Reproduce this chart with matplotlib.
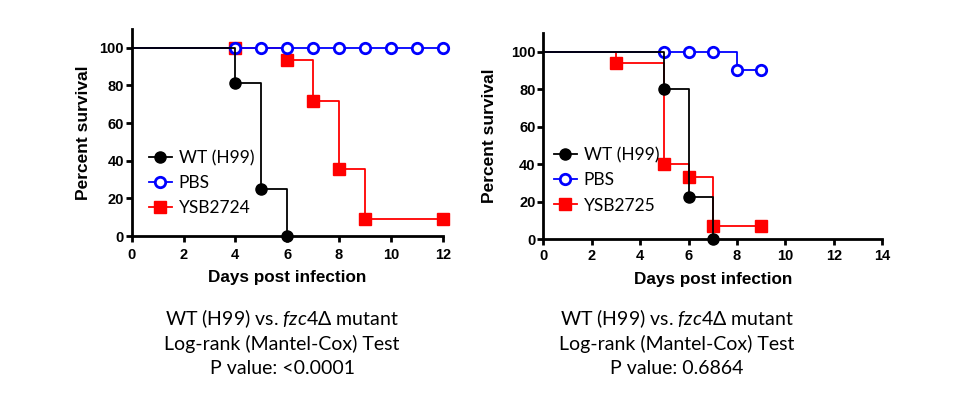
import matplotlib
matplotlib.use("Agg")
import matplotlib.pyplot as plt
from matplotlib.font_manager import FontProperties

plt.rcParams['mathtext.fontset'] = 'custom'
plt.rcParams['mathtext.rm'] = 'Lato'
plt.rcParams['mathtext.it'] = 'Lato:italic'

# left panel (YSB2724)
wt_days_a = [0, 4, 5, 6]
wt_surv_a = [100, 81.25, 25, 0]
pbs_days_a = [0, 4, 5, 6, 7, 8, 9, 10, 11, 12]
pbs_surv_a = [100, 100, 100, 100, 100, 100, 100, 100, 100, 100]
mut_days_a = [0, 4, 6, 7, 8, 9, 12]
mut_surv_a = [100, 100, 93.3, 71.7, 35.8, 9, 9]

# right panel (YSB2725)
wt_days_b = [0, 5, 6, 7]
wt_surv_b = [100, 80, 22.2, 0]
pbs_days_b = [0, 5, 6, 7, 8, 9]
pbs_surv_b = [100, 100, 100, 100, 90, 90]
mut_days_b = [0, 3, 5, 6, 7, 9]
mut_surv_b = [100, 93.75, 40, 33.3, 6.7, 6.7]

captions = ["P value: <0.0001", "P value: 0.6864"]
mutants = ["YSB2724", "YSB2725"]

fig = plt.figure(figsize=(9.6, 4.15), dpi=100)
ax1 = fig.add_axes([131.7 / 960, 1 - 236 / 415, 311 / 960, 207 / 415])
ax2 = fig.add_axes([543.3 / 960, 1 - 239 / 415, 339 / 960, 206 / 415])

tick_font = FontProperties(family='Liberation Sans', weight='bold', size=10.5)


def draw(ax, wt, pbs, mut, name, xmax, leg_pos, xpad, ylpad):
    ax.plot(mut[0], mut[1], drawstyle='steps-post', color='#ff0000', lw=1.3,
            marker='s', ms=8, markevery=list(range(1, len(mut[0]))),
            clip_on=False, label=name)
    ax.plot(pbs[0], pbs[1], drawstyle='steps-post', color='#0000ff', lw=1.3,
            marker='o', ms=7.5, mfc='white', mew=2, markevery=list(range(1, len(pbs[0]))),
            clip_on=False, label='PBS')
    ax.plot(wt[0], wt[1], drawstyle='steps-post', color='black', lw=1.3,
            marker='o', ms=8, markevery=list(range(1, len(wt[0]))),
            clip_on=False, label='WT (H99)')
    ax.set_xlim(0, xmax)
    ax.set_ylim(0, 110)
    ax.set_xticks(range(0, xmax + 1, 2))
    ax.set_yticks(range(0, 101, 20))
    for s in ['top', 'right']:
        ax.spines[s].set_visible(False)
    for s in ['left', 'bottom']:
        ax.spines[s].set_linewidth(2)
    ax.tick_params(width=2, length=4)
    ax.tick_params(axis='x', pad=xpad)
    ax.tick_params(axis='y', pad=1.5)
    for lab in ax.get_xticklabels() + ax.get_yticklabels():
        lab.set_fontproperties(tick_font)
    ax.set_xlabel('Days post infection', family='Liberation Sans', weight='bold', size=12.3, labelpad=6)
    ax.set_ylabel('Percent survival', family='Liberation Sans', weight='bold', size=12.5, labelpad=ylpad)
    h, l = ax.get_legend_handles_labels()
    ax.legend(h[::-1], l[::-1], loc='upper left', bbox_to_anchor=leg_pos,
              frameon=False, prop=dict(family='Lato', size=12.5),
              handlelength=1.3, handletextpad=0.4, labelspacing=0.52, borderpad=0,
              borderaxespad=0)


draw(ax1, (wt_days_a, wt_surv_a), (pbs_days_a, pbs_surv_a), (mut_days_a, mut_surv_a),
     mutants[0], 12, (0.056, 0.415), 4.5, 6)
draw(ax2, (wt_days_b, wt_surv_b), (pbs_days_b, pbs_surv_b), (mut_days_b, mut_surv_b),
     mutants[1], 14, (0.032, 0.445), 3.5, 10)

for cx, cap in zip([282 / 960, 677 / 960], captions):
    lines = [r"WT (H99) vs. $\it{fzc4}$Δ mutant", "Log-rank (Mantel-Cox) Test", cap]
    for i, t in enumerate(lines):
        fig.text(cx, 1 - (319 + i * 24.5) / 415, t, ha='center', va='center',
                 family=['Lato', 'DejaVu Sans'], size=14)

fig.savefig('out.png', dpi=100)
